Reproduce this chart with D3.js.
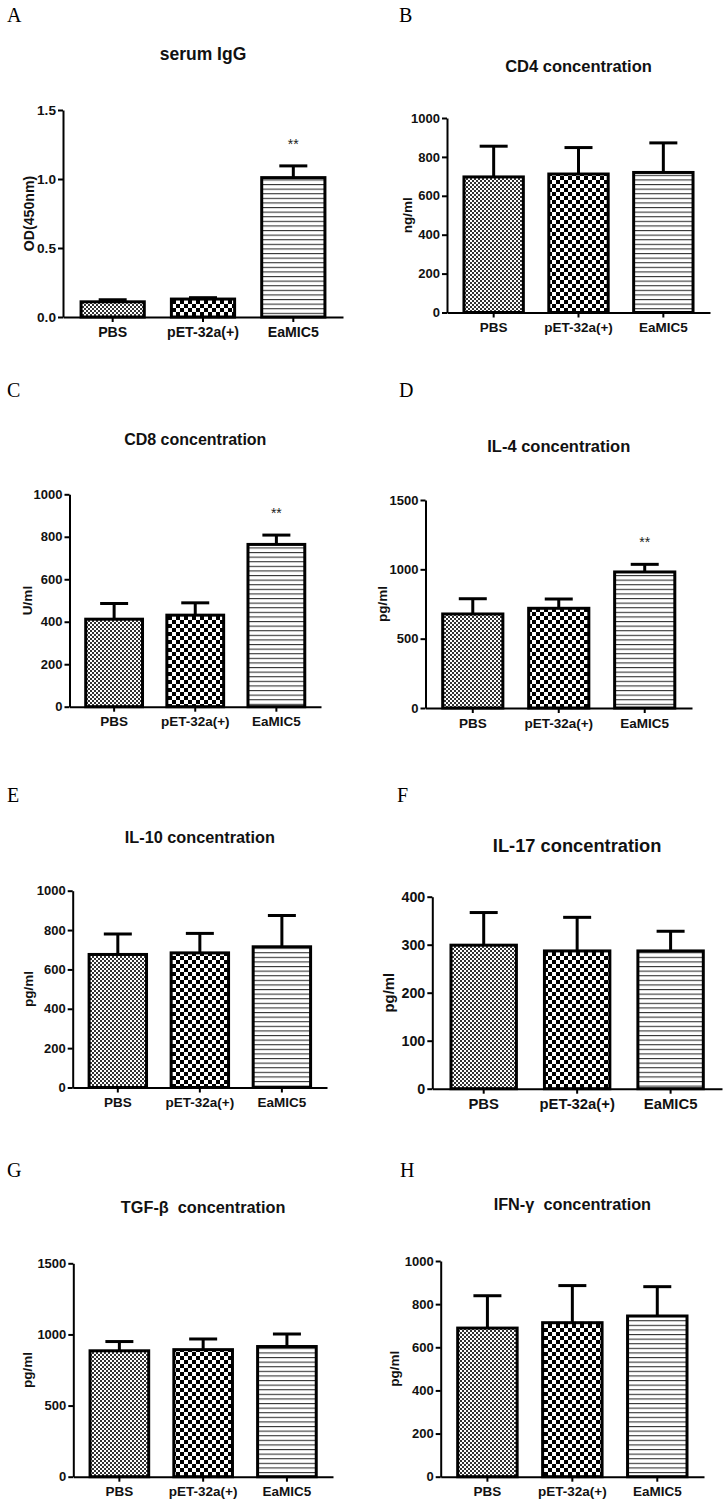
<!DOCTYPE html>
<html>
<head>
<meta charset="utf-8">
<script src="https://cdn.jsdelivr.net/npm/d3@7"></script>
<style>
  html, body { margin: 0; padding: 0; background: #fff; }
  svg { display: block; }
</style>
</head>
<body>
<div id="chart"></div>
<script>
// ---------------- DATA ----------------
const categories = ["PBS", "pET-32a(+)", "EaMIC5"];
const panelLetters = ["A", "B", "C", "D", "E", "F", "G", "H"];
const titles = ["serum IgG", "CD4 concentration", "CD8 concentration", "IL-4 concentration",
                "IL-10 concentration", "IL-17 concentration", "TGF-\u03b2  concentration", "IFN-\u03b3  concentration"];
const yLabels = ["OD(450nm)", "ng/ml", "U/ml", "pg/ml", "pg/ml", "pg/ml", "pg/ml", "pg/ml"];
const yMax = [1.5, 1000, 1000, 1500, 1000, 400, 1500, 1000];
const yTicks = [
  [0, 0.5, 1.0, 1.5],
  [0, 200, 400, 600, 800, 1000],
  [0, 200, 400, 600, 800, 1000],
  [0, 500, 1000, 1500],
  [0, 200, 400, 600, 800, 1000],
  [0, 100, 200, 300, 400],
  [0, 500, 1000, 1500],
  [0, 200, 400, 600, 800, 1000]
];
const tickDecimals = [1, 0, 0, 0, 0, 0, 0, 0];

const meanIgG  = [0.11, 0.13, 1.01];   const errIgG  = [0.015, 0.01, 0.085];
const meanCD4  = [697, 712, 720];      const errCD4  = [158, 136, 152];
const meanCD8  = [412, 431, 764];      const errCD8  = [74, 58, 44];
const meanIL4  = [678, 719, 981];      const errIL4  = [110, 67, 55];
const meanIL10 = [676, 684, 715];      const errIL10 = [104, 99, 159];
const meanIL17 = [299, 287, 287];      const errIL17 = [68, 70, 41];
const meanTGF  = [885, 893, 915];      const errTGF  = [65, 75, 88];
const meanIFN  = [689, 714, 745];      const errIFN  = [150, 172, 136];

const means = [meanIgG, meanCD4, meanCD8, meanIL4, meanIL10, meanIL17, meanTGF, meanIFN];
const errs  = [errIgG, errCD4, errCD8, errIL4, errIL10, errIL17, errTGF, errIFN];
const significance = [
  ["", "", "**"], ["", "", ""], ["", "", "**"], ["", "", "**"],
  ["", "", ""], ["", "", ""], ["", "", ""], ["", "", ""]
];

// ---------------- LAYOUT (positions only) ----------------
const frames = [
  {x0: 63,    x1: 343, yTop: 110,    y0: 317,    titleY: 60,    lx: 7,   ly: 22,    ylabX: 29,  fs: 1.05, tfs: 17.5},
  {x0: 447,   x1: 710, yTop: 118,    y0: 312.5,  titleY: 72,    lx: 399, ly: 22,    ylabX: 407, fs: 1.0,  tfs: 16.5},
  {x0: 69.5,  x1: 321, yTop: 494.3,  y0: 706.7,  titleY: 445,   lx: 7,   ly: 397,   ylabX: 27,  fs: 1.0,  tfs: 16},
  {x0: 425.5, x1: 692, yTop: 500,    y0: 708,    titleY: 451.7, lx: 399, ly: 397,   ylabX: 382, fs: 1.0,  tfs: 16.5},
  {x0: 72.7,  x1: 327, yTop: 890.7,  y0: 1087.5, titleY: 843,   lx: 7,   ly: 802,   ylabX: 28,  fs: 1.0,  tfs: 16.3},
  {x0: 432.3, x1: 722, yTop: 896.7,  y0: 1088.7, titleY: 851.7, lx: 397, ly: 802,   ylabX: 389, fs: 1.1,  tfs: 18.3},
  {x0: 73.3,  x1: 333, yTop: 1263.3, y0: 1476.7, titleY: 1213,  lx: 7,   ly: 1177,  ylabX: 27,  fs: 1.0,  tfs: 16.3},
  {x0: 440.7, x1: 704, yTop: 1261,   y0: 1476.7, titleY: 1210,  lx: 400, ly: 1177,  ylabX: 394, fs: 1.0,  tfs: 16.3}
];

const W = 728, H = 1509;
const SANS = "'Liberation Sans', Arial, Helvetica, sans-serif";
const SERIF = "'Liberation Serif', 'Times New Roman', serif";

const svg = d3.select("#chart").append("svg")
  .attr("width", W).attr("height", H)
  .attr("viewBox", `0 0 ${W} ${H}`);
svg.append("rect").attr("width", W).attr("height", H).attr("fill", "#fff");

// ---------------- PATTERNS ----------------
const defs = svg.append("defs");
const pFine = defs.append("pattern").attr("id", "patFine")
  .attr("patternUnits", "userSpaceOnUse").attr("width", 4).attr("height", 4);
pFine.append("rect").attr("width", 4).attr("height", 4).attr("fill", "#fff");
pFine.append("rect").attr("x", 0).attr("y", 0).attr("width", 2).attr("height", 2).attr("fill", "#333");
pFine.append("rect").attr("x", 2).attr("y", 2).attr("width", 2).attr("height", 2).attr("fill", "#333");

const pCheck = defs.append("pattern").attr("id", "patCheck")
  .attr("patternUnits", "userSpaceOnUse").attr("width", 8).attr("height", 8);
pCheck.append("rect").attr("width", 8).attr("height", 8).attr("fill", "#fff");
pCheck.append("rect").attr("x", 0).attr("y", 0).attr("width", 4).attr("height", 4).attr("fill", "#000");
pCheck.append("rect").attr("x", 4).attr("y", 4).attr("width", 4).attr("height", 4).attr("fill", "#000");

const pLines = defs.append("pattern").attr("id", "patLines")
  .attr("patternUnits", "userSpaceOnUse").attr("width", 10).attr("height", 4.6);
pLines.append("rect").attr("width", 10).attr("height", 4.6).attr("fill", "#fff");
pLines.append("rect").attr("x", 0).attr("y", 0).attr("width", 10).attr("height", 1.1).attr("fill", "#333");

const fills = ["url(#patFine)", "url(#patCheck)", "url(#patLines)"];

// ---------------- PANELS ----------------
frames.forEach((f, i) => {
  const g = svg.append("g");
  const s = f.fs;

  const x = d3.scaleBand().domain(categories).range([f.x0, f.x1])
    .paddingInner(0.3).paddingOuter(0.2);
  const y = d3.scaleLinear().domain([0, yMax[i]]).range([f.y0, f.yTop]);

  // panel letter
  g.append("text").attr("x", f.lx).attr("y", f.ly)
    .attr("font-family", SERIF).attr("font-size", 20).attr("fill", "#000")
    .text(panelLetters[i]);

  // title
  g.append("text").attr("x", (f.x0 + f.x1) / 2).attr("y", f.titleY)
    .attr("text-anchor", "middle").style("white-space", "pre")
    .attr("font-family", SANS).attr("font-weight", "bold").attr("font-size", f.tfs)
    .attr("fill", "#111").text(titles[i]);

  const rows = categories.map((c, k) => ({c, m: means[i][k], e: errs[i][k], sig: significance[i][k], k}));

  // error bars
  const eb = g.append("g").attr("stroke", "#000").attr("stroke-width", 3).attr("fill", "none");
  rows.forEach(d => {
    const cx = x(d.c) + x.bandwidth() / 2;
    eb.append("line").attr("x1", cx).attr("x2", cx).attr("y1", y(d.m)).attr("y2", y(d.m + d.e));
    eb.append("line").attr("x1", cx - 14).attr("x2", cx + 14).attr("y1", y(d.m + d.e)).attr("y2", y(d.m + d.e));
  });

  // bars
  g.append("g").selectAll("rect").data(rows).join("rect")
    .attr("x", d => x(d.c))
    .attr("y", d => y(d.m))
    .attr("width", x.bandwidth())
    .attr("height", d => y(0) - y(d.m))
    .attr("fill", d => fills[d.k])
    .attr("stroke", "#000").attr("stroke-width", 3);

  // significance
  g.append("g").selectAll("text").data(rows.filter(d => d.sig)).join("text")
    .attr("x", d => x(d.c) + x.bandwidth() / 2)
    .attr("y", d => y(d.m + d.e) - 17)
    .attr("text-anchor", "middle")
    .attr("font-family", SANS).attr("font-size", 14).attr("fill", "#222")
    .text(d => d.sig);

  // y axis
  const fmt = tickDecimals[i] ? d3.format(".1f") : d3.format("d");
  const ya = g.append("g").attr("transform", `translate(${f.x0},0)`)
    .call(d3.axisLeft(y).tickValues(yTicks[i]).tickFormat(fmt).tickSize(5).tickSizeOuter(0).tickPadding(2));
  ya.select(".domain").attr("stroke", "#000").attr("stroke-width", 2);
  ya.selectAll(".tick line").attr("stroke", "#000").attr("stroke-width", 2);
  ya.selectAll(".tick text").attr("font-family", SANS).attr("font-weight", "bold")
    .attr("font-size", 13 * s).attr("fill", "#111");

  // x axis
  const xa = g.append("g").attr("transform", `translate(0,${f.y0})`)
    .call(d3.axisBottom(x).tickSize(5).tickSizeOuter(0).tickPadding(5));
  xa.select(".domain").attr("stroke", "#000").attr("stroke-width", 2);
  xa.selectAll(".tick line").attr("stroke", "#000").attr("stroke-width", 2);
  xa.selectAll(".tick text").attr("font-family", SANS).attr("font-weight", "bold")
    .attr("font-size", 13.5 * s).attr("fill", "#111");

  // y label
  g.append("text")
    .attr("transform", `translate(${f.ylabX},${(f.y0 + f.yTop) / 2}) rotate(-90)`)
    .attr("text-anchor", "middle").attr("dy", "0.35em")
    .attr("font-family", SANS).attr("font-weight", "bold").attr("font-size", 13.5 * s)
    .attr("fill", "#111").text(yLabels[i]);
});
</script>
</body>
</html>
